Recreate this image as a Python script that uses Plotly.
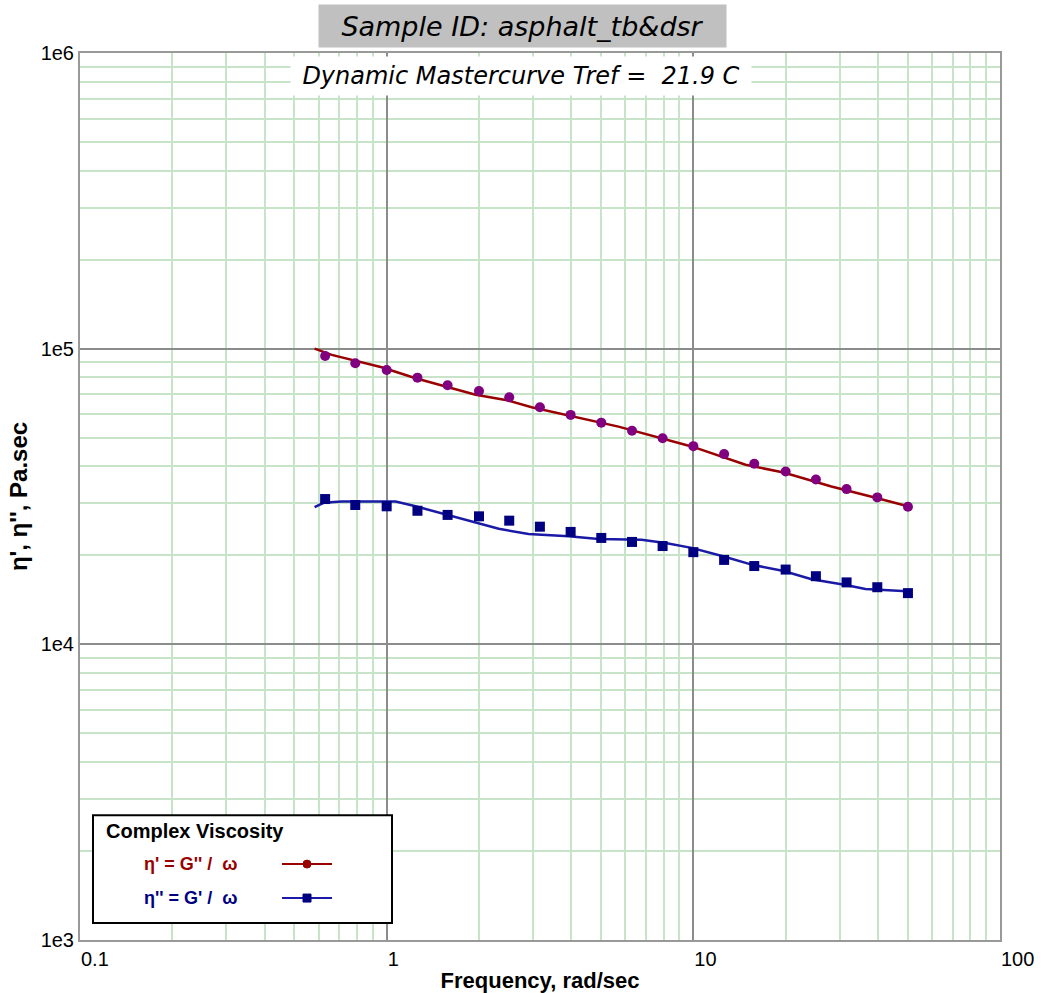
import plotly.graph_objects as go

# ---- data ----
freq = [0.63, 0.79, 1.0, 1.26, 1.58, 2.0, 2.51, 3.16, 3.98, 5.01,
        6.31, 7.94, 10.0, 12.6, 15.8, 20.0, 25.1, 31.6, 39.8, 50.1]
eta_p = [94400, 89300, 84700, 79800, 75200, 71900, 68500, 63400, 59700, 56200,
         52800, 49800, 46800, 44000, 40800, 38400, 36100, 33500, 31400, 29200]
eta_pp = [31000, 29600, 29300, 28300, 27400, 27100, 26200, 25000, 24000, 22900,
          22200, 21500, 20500, 19300, 18400, 17900, 17000, 16200, 15600, 14900]

fit_freq_p = [0.582, 0.662, 0.963, 1.243, 1.95, 2.443, 2.97, 3.83, 5.70, 9.87,
              14.8, 19.7, 28.2, 39.3, 51.5]
fit_eta_p = [100000, 95300, 86500, 79400, 69800, 67100, 63400, 59700, 54500, 46700,
             40500, 38100, 34200, 31300, 29100]

fit_freq_pp = [0.582, 0.623, 0.713, 1.07, 1.243, 1.57, 1.98, 2.32, 2.90, 3.92, 4.91,
               6.78, 8.11, 9.87, 12.4, 15.5, 19.7, 24.3, 31.1, 36.4, 51.5]
fit_eta_pp = [29100, 30100, 30400, 30400, 29300, 27400, 25700, 24600, 23600, 23200, 22700,
              22600, 22000, 21200, 19900, 18600, 17700, 16600, 15900, 15400, 15100]

x_tickvals = [0.1, 1, 10, 100]
x_ticktext = ["0.1", "1", "10", "100"]
y_tickvals = [1e3, 1e4, 1e5, 1e6]
y_ticktext = ["1e3", "1e4", "1e5", "1e6"]

title_text = "Sample ID: asphalt_tb&dsr"
subtitle_text = "Dynamic Mastercurve Tref =\u00a0\u00a021.9 C"
legend_title = "Complex Viscosity"
legend_labels = ["η' = G'' /\u00a0\u00a0ω", "η'' = G' /\u00a0\u00a0ω"]

RED_LINE = "#990000"
PURPLE = "#800080"
BLUE_LINE = "#1a1aa6"
NAVY = "#000080"

def minor_vals(lo_exp, hi_exp):
    vals = []
    for e in range(lo_exp, hi_exp):
        for d in range(2, 10):
            vals.append(d * 10 ** e)
    return vals

fig = go.Figure()
fig.add_trace(go.Scatter(x=fit_freq_p, y=fit_eta_p, mode="lines",
                         line=dict(color=RED_LINE, width=2.5), showlegend=False))
fig.add_trace(go.Scatter(x=fit_freq_pp, y=fit_eta_pp, mode="lines",
                         line=dict(color=BLUE_LINE, width=2.5), showlegend=False))
fig.add_trace(go.Scatter(x=freq, y=eta_p, mode="markers",
                         marker=dict(symbol="circle", size=10, color=PURPLE),
                         showlegend=False))
fig.add_trace(go.Scatter(x=freq, y=eta_pp, mode="markers",
                         marker=dict(symbol="square", size=10, color=NAVY),
                         showlegend=False))

axis_common = dict(
    type="log", showline=True, mirror=True, linecolor="#999999", linewidth=2,
    showgrid=True, gridcolor="#8c8c8c", gridwidth=1.5, zeroline=False,
    ticks="", tickmode="array",
    tickfont=dict(family="Liberation Sans Narrow, Liberation Sans, Arial", size=20, color="#000"),
)

fig.update_xaxes(
    **axis_common, range=[-1, 2], tickvals=x_tickvals, ticktext=x_ticktext,
    ticklabelposition="outside right",
    minor=dict(tickmode="array", tickvals=minor_vals(-1, 2), showgrid=True,
               gridcolor="#c8e4c8", gridwidth=1.5, ticks=""),
    title=dict(text="<b>Frequency, rad/sec</b>", standoff=8,
               font=dict(family="Liberation Sans Narrow, Liberation Sans, Arial", size=22, color="#000")),
    automargin=False,
)
fig.update_yaxes(
    **axis_common, range=[3, 6], tickvals=y_tickvals, ticktext=y_ticktext,
    minor=dict(tickmode="array", tickvals=minor_vals(3, 6), showgrid=True,
               gridcolor="#c8e4c8", gridwidth=1.5, ticks=""),
    title=dict(text="<b>η', η'', Pa.sec</b>", standoff=6,
               font=dict(family="Liberation Sans, Arial", size=24, color="#000")),
    automargin=False,
)

# Titles
fig.add_annotation(xref="paper", yref="paper", x=(522 - 80) / 920, y=(940 - 25) / 888,
                   text=title_text, showarrow=False, xanchor="center", yanchor="middle",
                   width=405, height=40, bgcolor="#c0c0c0",
                   font=dict(family="DejaVu Sans", size=27, color="#000", style="italic", weight=300))
fig.add_annotation(xref="paper", yref="paper", x=(521 - 80) / 920, y=(940 - 75) / 888,
                   text=subtitle_text, showarrow=False, xanchor="center", yanchor="middle",
                   width=458, height=36, bgcolor="#ffffff",
                   font=dict(family="DejaVu Sans", size=24, color="#000", style="italic", weight=300))

# Custom legend box
def px_x(p):
    return (p - 80) / 920

def px_y(p):
    return (940 - p) / 888

fig.add_shape(type="rect", xref="paper", yref="paper",
              x0=px_x(93), x1=px_x(392), y0=px_y(923), y1=px_y(815),
              fillcolor="#ffffff", line=dict(color="#000000", width=2), layer="above")
fig.add_annotation(xref="paper", yref="paper", x=px_x(104), y=px_y(831),
                   text="<b>" + legend_title + "</b>", showarrow=False,
                   xanchor="left", yanchor="middle",
                   font=dict(family="Liberation Sans, Arial", size=20, color="#000"))
row_y = [864, 898]
row_col = [RED_LINE, NAVY]
row_line = [RED_LINE, BLUE_LINE]
row_sym = ["circle", "rect"]
for lab, ry, col, lc, sym in zip(legend_labels, row_y, row_col, row_line, row_sym):
    fig.add_annotation(xref="paper", yref="paper", x=px_x(142), y=px_y(ry),
                       text="<b>" + lab + "</b>", showarrow=False,
                       xanchor="left", yanchor="middle",
                       font=dict(family="Liberation Sans, Arial", size=18, color=col))
    fig.add_shape(type="line", xref="paper", yref="paper",
                  x0=px_x(282), x1=px_x(332), y0=px_y(ry), y1=px_y(ry),
                  line=dict(color=lc, width=2), layer="above")
    fig.add_shape(type=sym, xref="paper", yref="paper",
                  xsizemode="pixel", ysizemode="pixel",
                  xanchor=px_x(307), yanchor=px_y(ry),
                  x0=-4, x1=4, y0=-4, y1=4,
                  fillcolor=col, line=dict(color=col, width=1), layer="above")

fig.update_layout(
    width=1044, height=993,
    margin=dict(l=80, r=44, t=53, b=53),
    paper_bgcolor="#ffffff", plot_bgcolor="#ffffff",
    showlegend=False,
)

fig.write_html("out.html")
